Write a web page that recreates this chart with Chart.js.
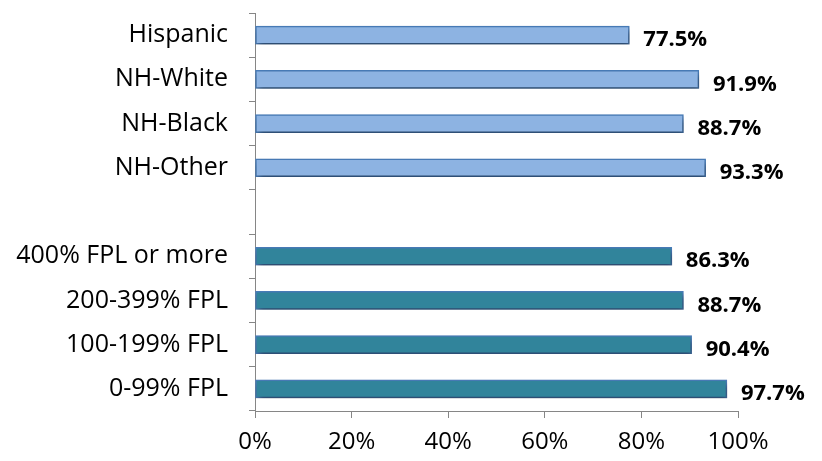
<!DOCTYPE html>
<html>
<head>
<meta charset="utf-8">
<script src="https://cdn.jsdelivr.net/npm/chart.js@4/dist/chart.umd.min.js"></script>
<style>
  html, body { margin: 0; padding: 0; background: #fff; }
  #wrap { width: 822px; height: 461px; }
</style>
</head>
<body>
<div id="wrap"><canvas id="chart"></canvas></div>
<script>
// values
const categories = ["Hispanic", "NH-White", "NH-Black", "NH-Other", "",
  "400% FPL or more", "200-399% FPL", "100-199% FPL", "0-99% FPL"];
const rates = [77.5, 91.9, 88.7, 93.3, null, 86.3, 88.7, 90.4, 97.7];
const groupColors = ["#8DB3E2", "#8DB3E2", "#8DB3E2", "#8DB3E2", "#8DB3E2",
  "#31849B", "#31849B", "#31849B", "#31849B"];
const xTicks = [0, 20, 40, 60, 80, 100];

const FONT = "'Open Sans', Lato, sans-serif";

// drop shadow under the bars + value labels
const shadowPlugin = {
  id: "barShadow",
  beforeDatasetsDraw(chart) {
    const ctx = chart.ctx;
    ctx.save();
    ctx.shadowColor = "rgba(0,0,0,0.45)";
    ctx.shadowBlur = 6;
    ctx.shadowOffsetX = 2;
    ctx.shadowOffsetY = 4;
  },
  afterDatasetsDraw(chart) {
    chart.ctx.restore();
    const ctx = chart.ctx;
    const meta = chart.getDatasetMeta(0);
    ctx.save();
    ctx.font = "bold 22px " + FONT;
    ctx.fillStyle = "#000";
    ctx.textAlign = "left";
    ctx.textBaseline = "middle";
    meta.data.forEach(function (bar, i) {
      if (rates[i] == null) return;
      ctx.fillText(rates[i].toFixed(1) + "%", bar.x + 14, bar.y + 5);
    });
    ctx.restore();
  }
};

new Chart(document.getElementById("chart"), {
  type: "bar",
  data: {
    labels: categories,
    datasets: [{
      data: rates,
      backgroundColor: groupColors,
      borderColor: "#4A7EBB",
      borderWidth: 1.5,
      barThickness: 18,
      borderSkipped: false
    }]
  },
  options: {
    indexAxis: "y",
    responsive: true,
    maintainAspectRatio: false,
    animation: false,
    layout: { padding: { top: 13, right: 84, left: 0, bottom: 0 } },
    plugins: { legend: { display: false }, tooltip: { enabled: false } },
    scales: {
      x: {
        min: 0,
        max: 100,
        afterBuildTicks(axis) {
          axis.ticks = xTicks.map(v => ({ value: v }));
        },
        afterFit(axis) { axis.height = 50; },
        border: { color: "#868686", width: 1 },
        grid: { drawOnChartArea: false, drawTicks: true, tickLength: 7, color: "#868686" },
        ticks: {
          padding: 10,
          color: "#000",
          font: { family: FONT, size: 24 },
          callback: v => v + "%"
        }
      },
      y: {
        afterFit(axis) {
          axis.width = 255;
          axis.paddingTop = 0;
          axis.paddingBottom = 0;
        },
        border: { color: "#868686", width: 1 },
        grid: { offset: true, drawOnChartArea: false, drawTicks: true, tickLength: 6, color: "#868686" },
        ticks: {
          padding: 21,
          color: "#000",
          font: { family: FONT, size: 25 }
        }
      }
    }
  },
  plugins: [shadowPlugin]
});
</script>
</body>
</html>
